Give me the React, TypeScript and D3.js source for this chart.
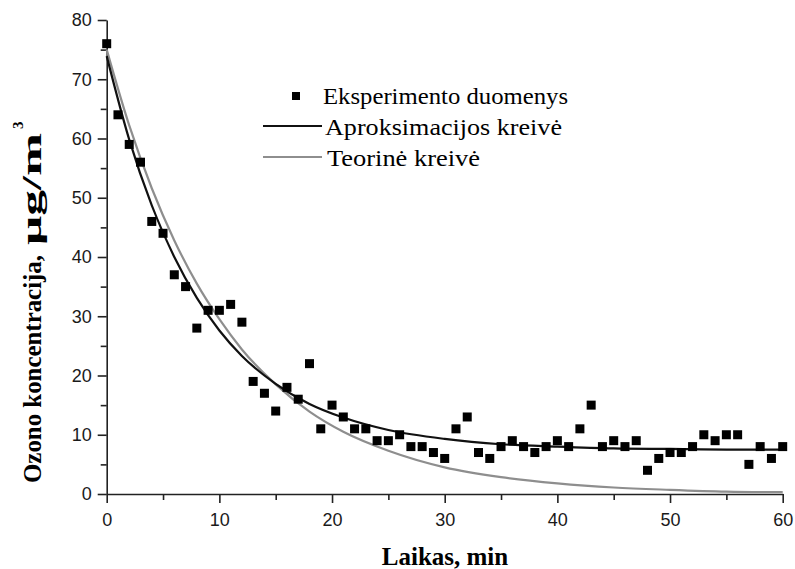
import React, { useEffect, useRef } from 'react';
import * as d3 from 'd3';

const minutes = d3.range(0, 61);
const ozone = [
  76, 64, 59, 56, 46, 44, 37, 35, 28, 31, 31, 32, 29, 19, 17, 14, 18, 16, 22, 11,
  15, 13, 11, 11, 9, 9, 10, 8, 8, 7, 6, 11, 13, 7, 6, 8, 9, 8, 7, 8,
  9, 8, 11, 15, 8, 9, 8, 9, 4, 6, 7, 7, 8, 10, 9, 10, 10, 5, 8, 6, 8,
];

// curves
const curveX = [0, 2, 4, 6, 8, 10, 12, 15, 18, 21, 25, 30, 35, 40, 45, 50, 55, 60];
const approxY = [73.9, 59.8, 48.7, 40.0, 33.1, 27.6, 23.3, 18.6, 15.2, 12.9, 10.8, 9.3, 8.4, 8.0, 7.7, 7.6, 7.5, 7.5];
const theoryY = [75.0, 62.2, 51.6, 42.8, 35.5, 29.5, 24.4, 18.5, 13.9, 10.5, 7.3, 4.5, 2.85, 1.8, 1.1, 0.7, 0.4, 0.3];

const xTicks = [0, 10, 20, 30, 40, 50, 60];
const yTicks = [0, 10, 20, 30, 40, 50, 60, 70, 80];

const legendLabels = ['Eksperimento duomenys', 'Aproksimacijos kreivė', 'Teorinė kreivė'];

const App = () => {
  const svgRef = useRef<SVGSVGElement>(null);

  useEffect(() => {
    const svg = d3.select(svgRef.current);
    svg.selectAll('*').remove();

    const left = 106.7, right = 782.7, top = 20, bottom = 494;
    const x = d3.scaleLinear().domain([0, 60]).range([left, right]);
    const y = d3.scaleLinear().domain([0, 80]).range([bottom, top]);

    const tickFont = '"Liberation Sans", Arial, sans-serif';
    const serif = '"Liberation Serif", "Times New Roman", serif';

    // minor ticks
    svg.append('g')
       .attr('transform', `translate(0,${bottom})`)
       .call(d3.axisBottom(x).tickValues([5, 15, 25, 35, 45, 55]).tickSize(6).tickSizeOuter(0).tickFormat(() => ''))
       .call(g => g.select('.domain').remove());
    svg.append('g')
       .attr('transform', `translate(${left},0)`)
       .call(d3.axisLeft(y).tickValues([5, 15, 25, 35, 45, 55, 65, 75]).tickSize(6).tickSizeOuter(0).tickFormat(() => ''))
       .call(g => g.select('.domain').remove());

    // major axes
    const xAxis = svg.append('g')
       .attr('transform', `translate(0,${bottom})`)
       .call(d3.axisBottom(x).tickValues(xTicks).tickSize(9).tickSizeOuter(0).tickPadding(10));
    const yAxis = svg.append('g')
       .attr('transform', `translate(${left},0)`)
       .call(d3.axisLeft(y).tickValues(yTicks).tickSize(9).tickSizeOuter(0).tickPadding(6));
    [xAxis, yAxis].forEach(g => {
      g.attr('font-size', 18).attr('font-family', tickFont);
      g.selectAll('text').attr('fill', '#1a1a1a');
      g.selectAll('line, path').attr('stroke', '#222').attr('stroke-width', 1.6);
    });
    svg.selectAll('g line').attr('stroke', '#222').attr('stroke-width', 1.6);

    // curves
    const line = d3.line<number>()
      .x((_, i) => x(curveX[i]))
      .y(d => y(d))
      .curve(d3.curveMonotoneX);
    svg.append('path').attr('d', line(theoryY)).attr('fill', 'none')
       .attr('stroke', '#8e8e8e').attr('stroke-width', 2.2);
    svg.append('path').attr('d', line(approxY)).attr('fill', 'none')
       .attr('stroke', '#111').attr('stroke-width', 2.2);

    // points
    const s = 9;
    svg.append('g').selectAll('rect')
       .data(ozone)
       .enter()
       .append('rect')
       .attr('x', (_, i) => x(minutes[i]) - s / 2)
       .attr('y', d => y(d) - s / 2)
       .attr('width', s)
       .attr('height', s)
       .attr('fill', '#000');

    // legend
    const lg = svg.append('g').attr('font-family', serif).attr('font-size', 24).attr('fill', '#000');
    lg.append('rect').attr('x', 292).attr('y', 92).attr('width', 8).attr('height', 8).attr('fill', '#000');
    lg.append('line').attr('x1', 263).attr('x2', 322).attr('y1', 126).attr('y2', 126)
      .attr('stroke', '#111').attr('stroke-width', 2.2);
    lg.append('line').attr('x1', 263).attr('x2', 322).attr('y1', 157).attr('y2', 157)
      .attr('stroke', '#8e8e8e').attr('stroke-width', 2.2);
    const lx = [323, 325, 327];
    const lw = [245, 237, 153];
    const lb = [104, 135, 166];
    legendLabels.forEach((t, i) => {
      lg.append('text').attr('x', lx[i]).attr('y', lb[i])
        .attr('textLength', lw[i]).attr('lengthAdjust', 'spacingAndGlyphs').text(t);
    });

    // axis titles
    svg.append('text')
       .attr('x', 445).attr('y', 565)
       .attr('text-anchor', 'middle')
       .attr('font-family', serif).attr('font-size', 25).attr('font-weight', 'bold')
       .text('Laikas, min');

    const yt = svg.append('g').attr('transform', 'translate(41,0) rotate(-90)')
       .attr('font-family', serif).attr('font-size', 25).attr('font-weight', 'bold');
    yt.append('text').attr('x', -483).attr('y', 0)
      .attr('textLength', 228).attr('lengthAdjust', 'spacingAndGlyphs')
      .text('Ozono koncentracija,');
    yt.append('text').attr('x', -245).attr('y', 0).attr('font-size', 27)
      .attr('textLength', 112).attr('lengthAdjust', 'spacingAndGlyphs')
      .text('μg/m');
    yt.append('text').attr('x', -129).attr('y', -18).attr('font-size', 15).text('3');
  }, []);

  return (
    <svg ref={svgRef} width={795} height={569}
         style={{ position: 'absolute', left: 0, top: 0, background: '#fff' }} />
  );
};

export default App;
